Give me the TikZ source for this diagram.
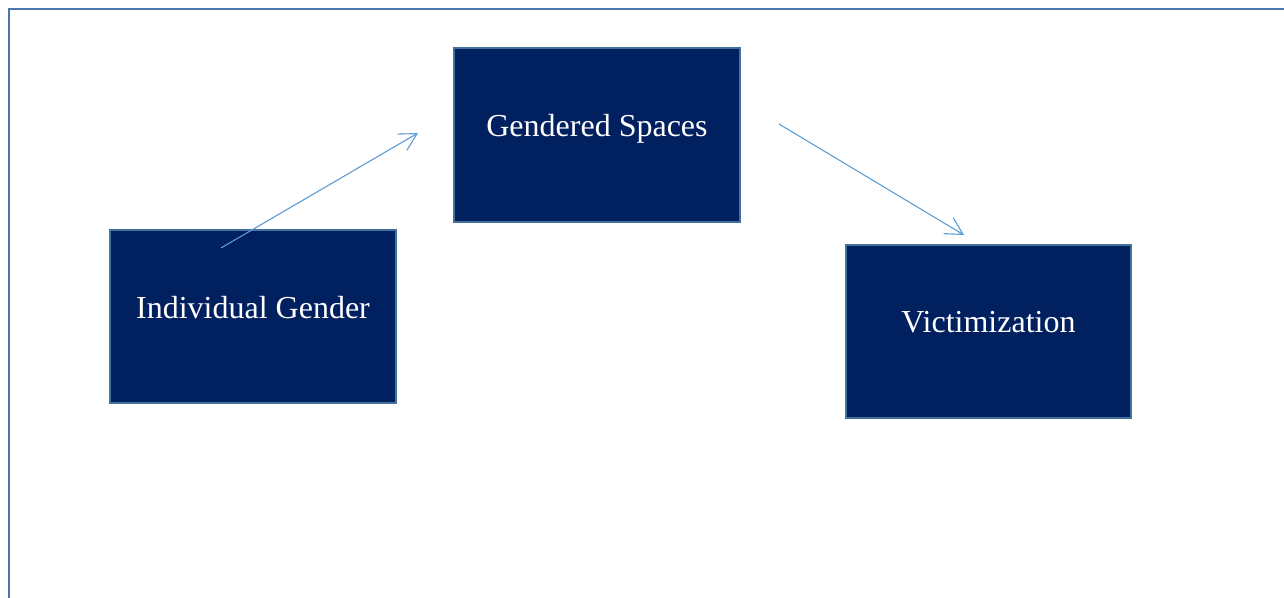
\documentclass[tikz,border=0pt]{standalone}
\usepackage{fontspec}
\setmainfont{Liberation Serif}
\usetikzlibrary{arrows.meta}
\definecolor{navy}{HTML}{002060}
\definecolor{boxedge}{HTML}{41719C}
\definecolor{frameblue}{HTML}{4A76A8}
\definecolor{arrowblue}{HTML}{5B9BD5}
\tikzset{
  block/.style={draw=boxedge, line width=2pt, fill=navy},
  lbl/.style={text=white, anchor=base, inner sep=0pt, font=\fontsize{32}{38}\selectfont},
  link/.style={draw=arrowblue, line width=1.1pt, -{Straight Barb[length=17pt,width=18.6pt,line width=1.1pt]}},
}
\begin{document}
\begin{tikzpicture}[x=1pt,y=-1pt]
\useasboundingbox (0,0) rectangle (1284,597);
\fill[white] (0,0) rectangle (1284,597);
\draw[frameblue, line width=2.5pt] (9,600) -- (9,9) -- (1290,9);
\draw[block] (110,230) rectangle (396,403);
\draw[block] (454,48) rectangle (740,222);
\draw[block] (846,245) rectangle (1131,418);
\node[lbl] (ig) at (253,318) {Individual Gender};
\node[lbl] (gs) at (597,136) {Gendered Spaces};
\node[lbl] (vi) at (988.5,332) {Victimization};
\coordinate (a1s) at (221,248);
\coordinate (a1e) at (418,133);
\coordinate (a2s) at (779,124);
\coordinate (a2e) at (964,235);
\draw[link] (a1s) -- (a1e);
\draw[link] (a2s) -- (a2e);
\end{tikzpicture}
\end{document}
